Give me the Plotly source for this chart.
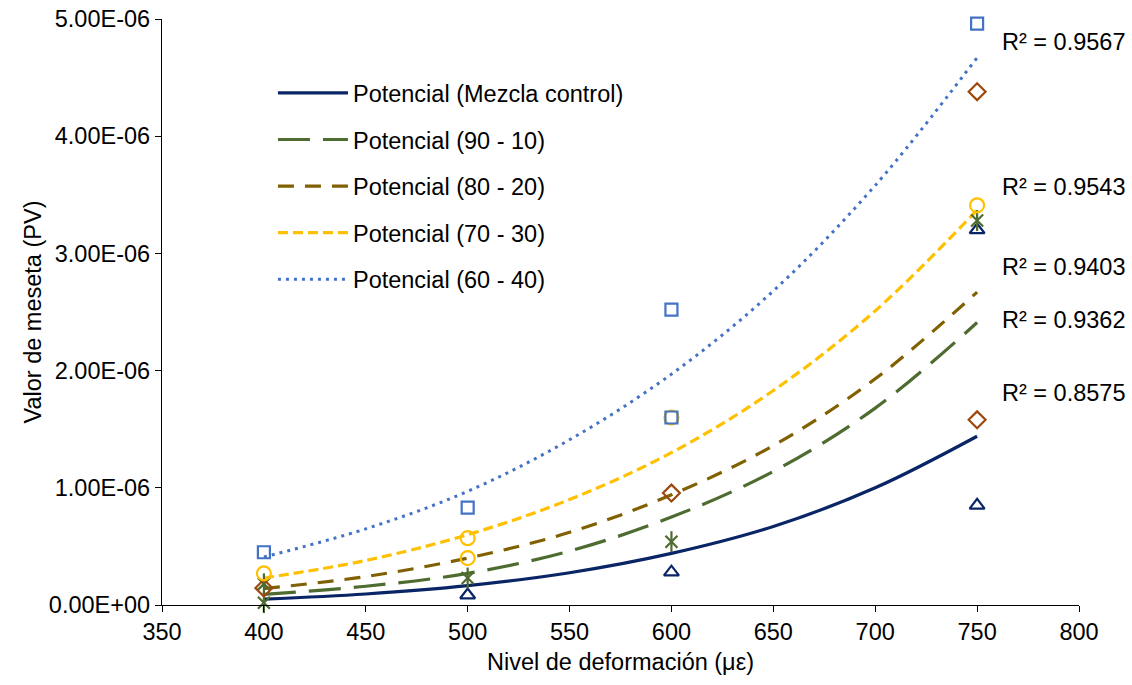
import numpy as np
import plotly.graph_objects as go

FONT = "Liberation Sans, Arial, sans-serif"
FS = 23.5
E6 = 1e-6

# Trendline readings (Potencial fits), in units of 1e-6
trend_x = [400, 450, 500, 550, 600, 650, 700, 750]
trend_control = [0.05, 0.094, 0.165, 0.275, 0.44, 0.67, 1.00, 1.44]
trend_90_10 = [0.09, 0.160, 0.27, 0.46, 0.75, 1.14, 1.68, 2.41]
trend_80_20 = [0.14, 0.243, 0.40, 0.62, 0.94, 1.36, 1.93, 2.67]
trend_70_30 = [0.23, 0.38, 0.60, 0.90, 1.30, 1.83, 2.51, 3.37]
trend_60_40 = [0.41, 0.65, 0.97, 1.41, 1.97, 2.68, 3.58, 4.67]

# Marker readings, in units of 1e-6
tri_x = [500, 600, 750, 750]
tri_y = [0.085, 0.28, 0.85, 3.20]
ast_x = [400, 400, 500, 600, 750]
ast_y = [0.18, 0.02, 0.23, 0.54, 3.28]
dia_x = [400, 600, 750, 750]
dia_y = [0.145, 0.955, 4.38, 1.58]
cir_x = [400, 500, 500, 600, 750]
cir_y = [0.27, 0.57, 0.40, 1.60, 3.41]
sq_x = [400, 500, 600, 600, 750]
sq_y = [0.45, 0.83, 2.52, 1.60, 4.96]

r2_labels = ["R² = 0.9567", "R² = 0.9543", "R² = 0.9403", "R² = 0.9362", "R² = 0.8575"]
r2_y = [4.80, 3.57, 2.88, 2.43, 1.81]

y_ticks = [0, 1, 2, 3, 4, 5]
y_ticktext = ["0.00E+00", "1.00E-06", "2.00E-06", "3.00E-06", "4.00E-06", "5.00E-06"]
x_ticks = [350, 400, 450, 500, 550, 600, 650, 700, 750, 800]

fig = go.Figure()

trends = [
    ("Potencial (Mezcla control)", trend_control, "#0A2566", "solid", 3.2),
    ("Potencial (90 - 10)", trend_90_10, "#4E6B30", "32px,13px", 3.2),
    ("Potencial (80 - 20)", trend_80_20, "#806000", "16px,11px", 3.2),
    ("Potencial (70 - 30)", trend_70_30, "#FFC000", "10px,5px", 3.2),
    ("Potencial (60 - 40)", trend_60_40, "#4472C4", "3px,5px", 3.0),
]
for i, (name, vals, col, dash, w) in enumerate(trends):
    fig.add_trace(go.Scatter(
        x=trend_x, y=np.array(vals) * E6, mode="lines", name=name,
        line=dict(color=col, dash=dash, width=w, shape="spline"),
        legendgroup=f"g{i}", showlegend=True, hoverinfo="skip"))

markers = [
    (tri_x, tri_y, "triangle-up-open", "#0A2566", 13),
    (ast_x, ast_y, "x-thin-open", "#4E6B30", 12),
    (ast_x, ast_y, "line-ns-open", "#4E6B30", 15),
    (dia_x, dia_y, "diamond-open", "#9E480E", 13),
    (cir_x, cir_y, "circle-open", "#FFC000", 14),
    (sq_x, sq_y, "square-open", "#4472C4", 12),
]
for xs, ys, sym, col, sz in markers:
    fig.add_trace(go.Scatter(
        x=xs, y=np.array(ys) * E6, mode="markers", showlegend=False,
        marker=dict(symbol=sym, size=sz, color=col, line=dict(color=col, width=2.2)),
        cliponaxis=False, hoverinfo="skip"))

for lab, yy in zip(r2_labels, r2_y):
    fig.add_annotation(x=761, y=yy * E6, text=lab, showarrow=False,
                       xanchor="left", yanchor="middle",
                       font=dict(family=FONT, size=FS, color="black"))

fig.update_layout(
    width=1132, height=685,
    margin=dict(l=162, r=53, t=19, b=80, autoexpand=False),
    paper_bgcolor="white", plot_bgcolor="white",
    font=dict(family=FONT, size=FS, color="black"),
    showlegend=True,
    legend=dict(x=0.121, y=0.911, xanchor="left", yanchor="top",
                bgcolor="rgba(0,0,0,0)", tracegroupgap=13,
                itemwidth=70, font=dict(family=FONT, size=FS, color="black")),
    xaxis=dict(range=[350, 800], tickvals=x_ticks, showgrid=False, zeroline=False,
               automargin=False,
               showline=True, linecolor="black", linewidth=1.3,
               ticks="outside", ticklen=6, tickcolor="black", tickwidth=1.3,
               title=dict(text="Nivel de deformación (με)", standoff=9,
                          font=dict(family=FONT, size=FS))),
    yaxis=dict(range=[0, 5 * E6], tickvals=[v * E6 for v in y_ticks], ticktext=y_ticktext,
               showgrid=False, zeroline=False, automargin=False,
               showline=True, linecolor="black", linewidth=1.3,
               ticks="outside", ticklen=6, tickcolor="black", tickwidth=1.3,
               title=dict(text="Valor de meseta (PV)", standoff=0,
                          font=dict(family=FONT, size=FS))),
)

fig.write_html("out.html", config={"displayModeBar": False},
               post_script="document.body.style.margin='0';document.body.style.overflow='hidden';")
